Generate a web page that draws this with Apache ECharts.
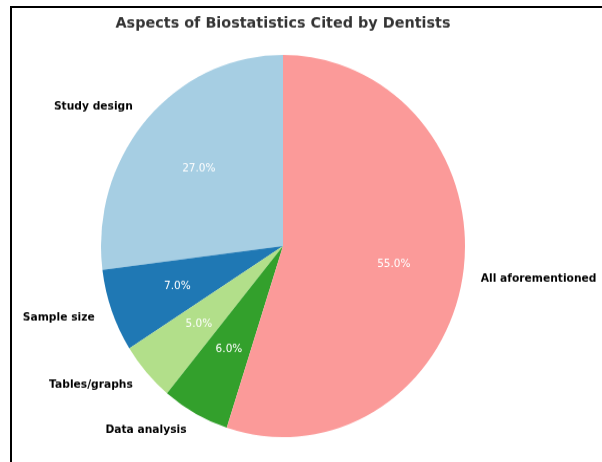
<!DOCTYPE html>
<html>
<head>
<meta charset="utf-8">
<script src="https://cdn.jsdelivr.net/npm/echarts@6/dist/echarts.min.js"></script>
<style>
html,body{margin:0;padding:0;background:#fff;}
#wrap{position:absolute;left:0;top:0;width:602px;height:462px;overflow:hidden;background:#fff;}
#frame{position:absolute;left:10px;top:6px;width:700px;height:600px;border-left:2px solid #000;border-top:2px solid #000;}
#chart{position:absolute;left:0;top:0;width:602px;height:462px;transform:scaleY(1.05);transform-origin:0 246px;}
</style>
</head>
<body>
<div id="wrap">
<div id="frame"></div>
<div id="chart"></div>
</div>
<script>
const titleText = 'Aspects of Biostatistics Cited by Dentists';
const categories = ['Study design', 'Sample size', 'Tables/graphs', 'Data analysis', 'All aforementioned'];
const values = [27, 7, 5, 6, 55];
const colors = ['#a6cee3', '#1f78b4', '#b2df8a', '#33a02c', '#fb9a99'];

const total = values.reduce((a, b) => a + b, 0);
const R = 182;
const data = categories.map((c, i) => ({ name: c, value: values[i], itemStyle: { color: colors[i] } }));
const pctData = categories.map((c, i) => ({ name: c, value: values[i] }));

const chart = echarts.init(document.getElementById('chart'), null, { renderer: 'canvas' });
chart.setOption({
  animation: false,
  backgroundColor: 'transparent',
  graphic: [{
    type: 'text',
    x: 283,
    y: 34,
    style: {
      text: titleText,
      textAlign: 'center', textVerticalAlign: 'middle',
      fontFamily: 'DejaVu Sans', fontWeight: 'bold', fontSize: 14.4, fill: '#333333'
    }
  }],
  series: [{
    type: 'pie',
    center: [283, 246],
    radius: [0, R],
    startAngle: 90,
    clockwise: false,
    avoidLabelOverlap: false,
    silent: true,
    data: data,
    itemStyle: { borderWidth: 0 },
    label: {
      show: true,
      position: 'outside',
      alignTo: 'none',
      distanceToLabelLine: 0,
      overflow: 'none',
      fontFamily: 'DejaVu Sans',
      fontWeight: 'bold',
      fontSize: 10.7,
      color: '#000',
      formatter: '{b}'
    },
    labelLine: { show: false, length: 18.2, length2: 0 }
  }, {
    type: 'pie',
    center: [283, 246],
    radius: [R * 0.2, R],
    startAngle: 90,
    clockwise: false,
    avoidLabelOverlap: false,
    silent: true,
    data: pctData,
    itemStyle: { color: 'rgba(0,0,0,0)', borderWidth: 0 },
    label: {
      show: true,
      position: 'inside',
      fontFamily: 'DejaVu Sans',
      fontSize: 10.5,
      color: '#ffffff',
      formatter: p => (p.value / total * 100).toFixed(1) + '%'
    },
    labelLine: { show: false }
  }]
});
</script>
</body>
</html>
